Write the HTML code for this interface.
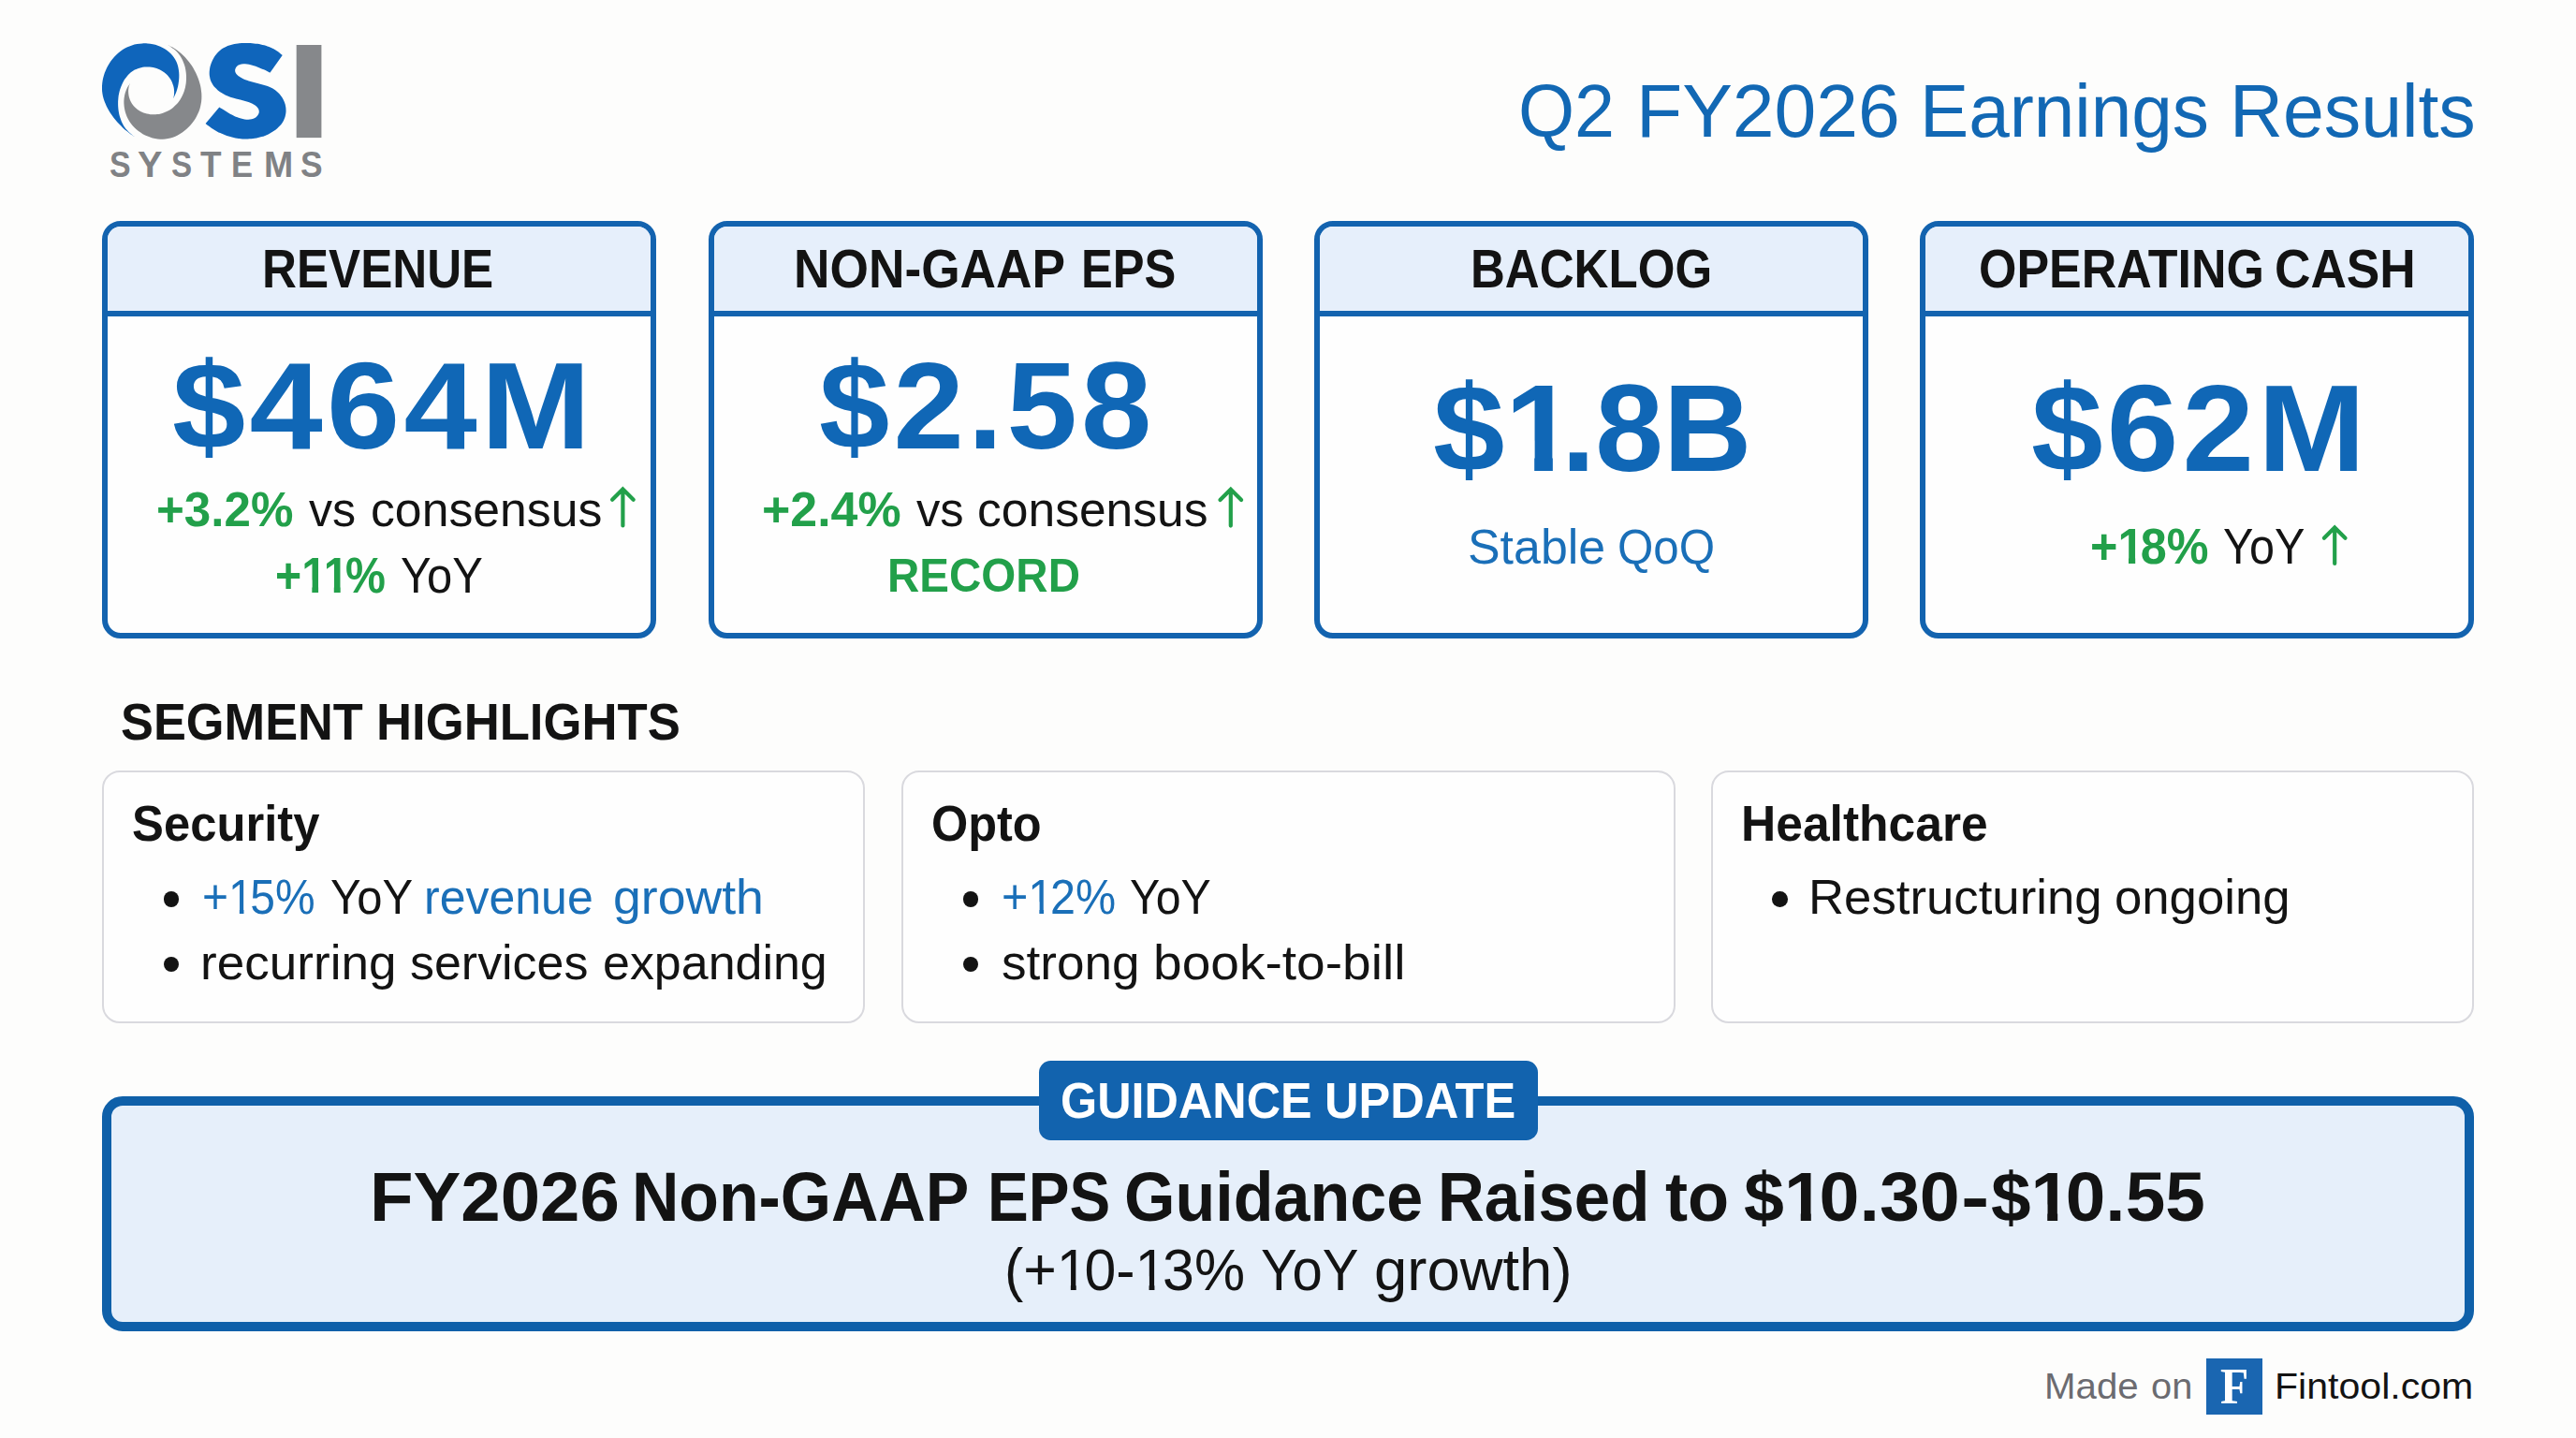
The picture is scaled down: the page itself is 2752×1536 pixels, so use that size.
<!DOCTYPE html>
<html><head><meta charset="utf-8"><title>OSI Systems Q2 FY2026 Earnings Results</title>
<style>
html,body{margin:0;padding:0;}
body{width:2752px;height:1536px;background:#fdfdfc;position:relative;overflow:hidden;font-family:"Liberation Sans",sans-serif;}
.t{position:absolute;white-space:pre;transform-origin:0 0;margin:0;padding:0;}
.o1b,.o1r{display:inline-block;margin-right:-0.07em;}
.o1b{clip-path:polygon(0 0,67.2% 0,67.2% 100%,41.5% 100%,41.5% 60%,0 60%);}
.o1r{clip-path:polygon(0 0,61.8% 0,61.8% 100%,44.5% 100%,44.5% 60%,0 60%);}
.serif{font-family:"Liberation Serif",serif;}
.kpi{position:absolute;top:235.5px;width:580px;height:434.2px;border:6px solid #1363af;border-radius:20px;background:#fefefe;overflow:hidden;}
.kpi .hd{position:absolute;left:0;top:0;width:100%;height:90.5px;background:#e6effb;border-bottom:6px solid #1363af;}
.seg{position:absolute;top:823px;height:266px;border:2px solid #d9d9de;border-radius:19px;background:#fefefe;}
.dot{position:absolute;width:16.6px;height:16.6px;border-radius:50%;background:#131313;}
.gbox{position:absolute;left:109px;top:1171px;width:2514px;height:231px;border:10px solid #0f60a9;border-radius:22px;background:#e6effa;}
.badge{position:absolute;left:1110.3px;top:1133px;width:532.5px;height:85px;border-radius:12.5px;background:#1263ae;}
.fbox{position:absolute;left:2357px;top:1451px;width:59.6px;height:59.6px;background:#1a66b1;}
svg{position:absolute;overflow:visible;}
</style></head><body>
<!-- logo -->
<svg id="logo" style="left:0;top:0" width="480" height="220" viewBox="0 0 480 220">
<path d="M144.3 146.6C143.6 146.1 141.3 144.7 139.8 143.6C138.3 142.5 136.9 141.3 135.5 140.1C134.0 138.9 132.6 137.7 131.2 136.4C129.8 135.1 128.5 133.7 127.1 132.3C125.8 130.9 124.5 129.4 123.3 127.9C122.0 126.5 120.8 124.9 119.7 123.3C118.6 121.8 117.5 120.2 116.5 118.5C115.6 116.9 114.6 115.2 113.8 113.5C113.0 111.8 112.3 110.0 111.6 108.3C111.0 106.5 110.5 104.7 110.0 102.9C109.6 101.1 109.3 99.3 109.1 97.5C109.0 95.6 108.9 93.8 109.0 91.9C109.1 90.0 109.3 88.2 109.6 86.3C109.9 84.4 110.3 82.6 110.9 80.8C111.4 78.9 112.0 77.1 112.8 75.4C113.5 73.6 114.4 71.9 115.3 70.2C116.3 68.5 117.3 66.9 118.4 65.3C119.6 63.7 120.8 62.2 122.1 60.8C123.4 59.4 124.7 58.0 126.2 56.8C127.6 55.5 129.1 54.4 130.7 53.3C132.3 52.3 133.9 51.3 135.6 50.5C137.3 49.7 139.1 48.9 140.9 48.4C142.7 47.8 144.5 47.3 146.4 47.0C148.2 46.7 150.1 46.4 152.0 46.4C153.9 46.3 155.8 46.3 157.7 46.5C159.6 46.6 161.4 46.9 163.3 47.3C165.1 47.6 166.9 48.1 168.6 48.7C170.4 49.4 172.1 50.1 173.7 50.9C175.3 51.8 176.9 52.7 178.3 53.8C179.8 54.8 181.2 56.0 182.4 57.3C183.7 58.5 184.8 59.9 185.9 61.4C186.9 62.9 187.8 64.5 188.5 66.1C189.3 67.8 189.9 69.6 190.3 71.5C190.7 73.3 191.0 75.3 191.2 77.3C191.4 79.3 191.4 81.3 191.3 83.3C191.2 85.4 191.0 87.4 190.6 89.4C190.3 91.4 189.9 93.4 189.3 95.2C188.8 97.1 188.1 98.9 187.4 100.6C186.7 102.3 185.5 104.6 185.1 105.4C185.3 104.8 185.7 103.0 185.9 101.7C186.0 100.4 186.1 99.0 186.1 97.6C186.1 96.3 185.9 95.0 185.7 93.7C185.4 92.4 185.1 91.1 184.6 89.9C184.2 88.7 183.7 87.5 183.1 86.3C182.5 85.2 181.8 84.1 181.0 83.1C180.3 82.0 179.5 81.0 178.6 80.1C177.7 79.2 176.7 78.4 175.7 77.6C174.7 76.8 173.7 76.1 172.6 75.5C171.5 74.8 170.3 74.3 169.1 73.8C168.0 73.3 166.8 72.9 165.5 72.6C164.3 72.2 163.1 72.0 161.8 71.8C160.6 71.6 159.3 71.5 158.1 71.5C156.8 71.4 155.5 71.5 154.3 71.6C153.1 71.7 151.8 71.9 150.7 72.2C149.5 72.4 148.3 72.8 147.2 73.2C146.0 73.6 145.0 74.1 143.9 74.6C142.9 75.2 141.9 75.8 140.9 76.5C140.0 77.2 139.0 78.0 138.2 78.8C137.3 79.6 136.5 80.5 135.7 81.4C134.9 82.3 134.2 83.3 133.5 84.3C132.8 85.3 132.2 86.4 131.6 87.5C131.0 88.6 130.5 89.7 130.0 90.9C129.5 92.1 129.0 93.3 128.6 94.5C128.2 95.7 127.8 97.0 127.5 98.3C127.2 99.5 127.0 100.8 126.7 102.1C126.5 103.4 126.4 104.8 126.3 106.1C126.1 107.4 126.1 108.8 126.1 110.1C126.1 111.4 126.1 112.8 126.2 114.1C126.3 115.4 126.4 116.8 126.6 118.1C126.8 119.4 127.0 120.7 127.3 122.0C127.6 123.3 128.0 124.5 128.4 125.8C128.8 127.0 129.2 128.2 129.7 129.4C130.2 130.6 130.8 131.8 131.4 132.9C132.0 134.0 132.7 135.1 133.4 136.2C134.1 137.2 134.9 138.2 135.8 139.1C136.6 140.1 137.5 141.0 138.4 141.8C139.4 142.7 140.4 143.4 141.4 144.2C142.4 145.0 143.8 146.2 144.3 146.6Z" fill="#0f65bb"/>
<path d="M179.5 48.0C180.3 48.5 182.8 49.7 184.4 50.6C186.0 51.5 187.5 52.5 189.0 53.5C190.5 54.6 192.0 55.8 193.4 57.0C194.9 58.3 196.2 59.6 197.6 61.0C198.9 62.4 200.1 63.9 201.4 65.4C202.6 66.9 203.7 68.5 204.8 70.1C205.9 71.8 206.9 73.5 207.8 75.2C208.8 76.9 209.6 78.7 210.4 80.5C211.2 82.3 211.9 84.1 212.5 86.0C213.1 87.8 213.6 89.7 214.1 91.6C214.5 93.4 214.8 95.3 215.0 97.2C215.3 99.1 215.4 101.0 215.4 102.9C215.4 104.8 215.3 106.7 215.1 108.6C214.8 110.5 214.5 112.3 214.0 114.2C213.6 116.0 213.0 117.8 212.3 119.6C211.6 121.3 210.7 123.1 209.8 124.7C208.9 126.4 207.9 128.1 206.8 129.6C205.7 131.2 204.5 132.7 203.2 134.1C201.9 135.5 200.6 136.9 199.1 138.1C197.7 139.4 196.2 140.5 194.7 141.6C193.1 142.7 191.5 143.6 189.8 144.5C188.2 145.3 186.5 146.1 184.7 146.7C183.0 147.3 181.2 147.7 179.4 148.1C177.6 148.4 175.8 148.6 174.0 148.7C172.1 148.7 170.3 148.6 168.4 148.4C166.6 148.2 164.8 147.9 163.0 147.4C161.2 146.9 159.4 146.3 157.7 145.6C155.9 144.9 154.2 144.1 152.6 143.2C151.0 142.2 149.4 141.2 147.9 140.1C146.4 138.9 145.0 137.7 143.6 136.3C142.3 135.0 141.1 133.5 139.9 132.0C138.8 130.5 137.8 128.9 136.9 127.2C136.0 125.5 135.2 123.7 134.6 121.9C134.0 120.1 133.4 118.3 133.1 116.4C132.7 114.5 132.5 112.6 132.4 110.6C132.3 108.7 132.4 106.8 132.6 104.9C132.9 102.9 133.3 101.0 133.8 99.1C134.4 97.2 135.2 95.3 136.0 93.6C136.9 91.9 138.6 89.7 139.1 88.9C138.8 89.5 137.9 91.3 137.6 92.7C137.3 94.0 137.2 95.7 137.1 97.1C137.1 98.5 137.2 99.9 137.4 101.2C137.6 102.6 137.9 103.9 138.3 105.1C138.6 106.3 139.1 107.5 139.7 108.6C140.3 109.7 141.0 110.8 141.7 111.8C142.4 112.8 143.3 113.7 144.1 114.6C145.0 115.4 146.0 116.2 146.9 117.0C147.9 117.7 149.0 118.3 150.1 118.9C151.1 119.5 152.3 120.0 153.4 120.5C154.6 120.9 155.7 121.3 156.9 121.6C158.1 121.8 159.4 122.1 160.6 122.2C161.8 122.3 163.0 122.4 164.3 122.3C165.5 122.3 166.8 122.2 168.0 122.1C169.2 121.9 170.5 121.7 171.7 121.4C172.9 121.1 174.1 120.7 175.3 120.2C176.5 119.8 177.6 119.3 178.8 118.8C179.9 118.2 181.0 117.6 182.1 116.9C183.1 116.2 184.2 115.5 185.1 114.7C186.1 113.9 187.1 113.0 187.9 112.1C188.8 111.2 189.7 110.3 190.5 109.3C191.2 108.3 192.0 107.2 192.6 106.2C193.3 105.1 193.9 104.0 194.5 102.8C195.1 101.6 195.6 100.5 196.1 99.2C196.5 98.0 197.0 96.8 197.3 95.5C197.7 94.3 198.0 93.0 198.2 91.7C198.5 90.4 198.7 89.1 198.8 87.8C198.9 86.5 199.0 85.1 199.0 83.8C199.1 82.5 199.0 81.2 198.9 79.8C198.9 78.5 198.7 77.2 198.5 75.9C198.3 74.6 198.1 73.3 197.8 72.0C197.4 70.8 197.1 69.5 196.6 68.3C196.2 67.1 195.7 65.9 195.2 64.7C194.7 63.5 194.1 62.4 193.4 61.3C192.7 60.2 192.0 59.1 191.2 58.1C190.5 57.0 189.6 56.1 188.7 55.1C187.8 54.2 186.9 53.3 185.9 52.5C184.8 51.7 183.7 51.0 182.6 50.2C181.6 49.5 180.0 48.4 179.5 48.0Z" fill="#86888b"/>
<path d="M301.7 58.9C301.2 58.5 299.7 57.2 298.7 56.4C297.7 55.6 296.7 54.9 295.6 54.2C294.6 53.5 293.5 52.9 292.4 52.3C291.3 51.7 290.2 51.2 289.1 50.7C288.0 50.2 286.8 49.8 285.7 49.4C284.5 48.9 283.4 48.6 282.2 48.3C281.0 48.0 279.8 47.7 278.6 47.4C277.4 47.2 276.2 47.0 275.0 46.8C273.8 46.6 272.5 46.5 271.3 46.4C270.1 46.3 268.8 46.2 267.5 46.1C266.3 46.1 265.0 46.0 263.7 46.0C262.5 46.0 261.2 46.0 259.9 46.1C258.6 46.1 257.3 46.2 256.0 46.3C254.8 46.4 253.5 46.6 252.2 46.8C251.0 47.0 249.7 47.2 248.5 47.5C247.3 47.8 246.1 48.1 244.9 48.5C243.7 48.9 242.6 49.3 241.4 49.9C240.3 50.4 239.2 50.9 238.2 51.6C237.2 52.2 236.1 52.9 235.2 53.7C234.2 54.5 233.3 55.4 232.5 56.3C231.6 57.2 230.8 58.2 230.0 59.2C229.3 60.3 228.6 61.3 228.0 62.5C227.3 63.6 226.8 64.7 226.3 65.9C225.8 67.1 225.3 68.3 225.0 69.5C224.6 70.7 224.3 72.0 224.1 73.2C223.9 74.5 223.8 75.7 223.7 76.9C223.7 78.2 223.7 79.4 223.8 80.6C224.0 81.8 224.2 83.0 224.5 84.2C224.8 85.3 225.2 86.5 225.7 87.6C226.2 88.7 226.8 89.7 227.5 90.7C228.1 91.7 228.9 92.7 229.8 93.6C230.6 94.5 231.6 95.4 232.5 96.2C233.5 97.0 234.6 97.8 235.6 98.5C236.7 99.2 237.9 99.9 239.0 100.5C240.1 101.2 241.3 101.7 242.5 102.3C243.7 102.8 244.9 103.3 246.1 103.7C247.3 104.1 248.5 104.5 249.7 104.8C250.8 105.2 252.0 105.5 253.2 105.7C254.4 106.0 255.5 106.3 256.7 106.6C257.9 106.9 259.0 107.1 260.2 107.4C261.4 107.8 262.6 108.1 263.7 108.5C264.9 108.8 266.1 109.3 267.3 109.8C268.5 110.3 269.8 110.8 270.9 111.5C272.0 112.1 273.2 112.8 274.1 113.7C275.0 114.6 275.9 115.7 276.3 116.8C276.7 117.8 276.9 119.1 276.7 120.3C276.5 121.4 275.8 122.6 275.1 123.5C274.3 124.5 273.3 125.4 272.3 126.0C271.2 126.6 270.1 127.0 268.9 127.3C267.7 127.6 266.4 127.7 265.2 127.7C263.9 127.7 262.6 127.6 261.3 127.4C260.0 127.2 258.7 126.8 257.4 126.5C256.1 126.1 254.9 125.7 253.7 125.3C252.5 124.8 251.4 124.4 250.3 123.9C249.2 123.4 248.1 122.8 247.0 122.3C246.0 121.7 244.9 121.1 243.9 120.5C242.9 119.9 241.8 119.3 240.8 118.6C239.8 118.0 238.7 117.3 237.6 116.6C236.6 115.9 234.9 114.9 234.3 114.5L219.6 131.9C220.0 132.3 221.5 133.5 222.5 134.3C223.4 135.0 224.4 135.8 225.5 136.5C226.5 137.2 227.5 137.9 228.6 138.5C229.7 139.2 230.8 139.8 231.9 140.4C233.0 141.0 234.1 141.6 235.3 142.1C236.4 142.7 237.6 143.2 238.8 143.6C239.9 144.1 241.1 144.5 242.3 145.0C243.5 145.4 244.8 145.7 246.0 146.1C247.2 146.4 248.4 146.7 249.7 147.0C250.9 147.3 252.2 147.5 253.4 147.7C254.7 147.9 255.9 148.1 257.2 148.2C258.4 148.3 259.7 148.4 261.0 148.4C262.2 148.5 263.5 148.5 264.7 148.5C266.0 148.4 267.3 148.4 268.5 148.3C269.7 148.2 271.0 148.0 272.2 147.8C273.5 147.6 274.7 147.4 275.9 147.1C277.1 146.8 278.3 146.5 279.5 146.1C280.7 145.8 281.9 145.4 283.1 144.9C284.3 144.5 285.4 144.0 286.6 143.4C287.7 142.9 288.8 142.3 289.9 141.6C291.0 141.0 292.1 140.3 293.1 139.6C294.2 138.8 295.2 138.0 296.1 137.2C297.1 136.4 298.0 135.5 298.8 134.6C299.7 133.7 300.5 132.7 301.2 131.7C301.9 130.7 302.5 129.6 303.1 128.5C303.6 127.4 304.1 126.2 304.5 125.0C304.8 123.8 305.1 122.5 305.3 121.2C305.5 120.0 305.6 118.7 305.5 117.4C305.5 116.1 305.4 114.8 305.1 113.5C304.9 112.3 304.6 111.0 304.1 109.8C303.7 108.6 303.2 107.4 302.6 106.3C302.0 105.1 301.3 104.0 300.6 103.0C299.9 101.9 299.1 100.9 298.2 100.0C297.4 99.1 296.4 98.2 295.5 97.4C294.5 96.6 293.5 95.8 292.5 95.2C291.4 94.5 290.4 94.0 289.3 93.4C288.2 92.9 287.0 92.4 285.9 92.0C284.7 91.6 283.6 91.2 282.4 90.9C281.2 90.5 280.0 90.2 278.8 89.9C277.5 89.6 276.3 89.3 275.1 89.0C273.8 88.7 272.6 88.4 271.3 88.1C270.1 87.7 268.9 87.4 267.6 87.0C266.4 86.7 265.1 86.3 263.9 85.8C262.7 85.4 261.5 84.9 260.3 84.4C259.1 83.8 257.9 83.2 256.8 82.5C255.6 81.8 254.5 81.0 253.7 80.2C252.8 79.4 252.0 78.5 251.6 77.5C251.2 76.5 251.0 75.4 251.2 74.3C251.5 73.2 252.1 71.9 252.9 71.0C253.7 70.1 254.9 69.3 256.1 68.9C257.3 68.4 258.7 68.3 260.0 68.2C261.3 68.2 262.7 68.3 264.0 68.5C265.3 68.7 266.5 68.9 267.8 69.2C269.0 69.5 270.2 69.9 271.3 70.3C272.5 70.6 273.7 71.1 274.9 71.5C276.0 71.9 277.2 72.4 278.4 72.9C279.5 73.3 280.7 73.8 281.8 74.3C283.0 74.9 284.1 75.4 285.3 75.9C286.4 76.5 288.1 77.3 288.6 77.6Z" fill="#0f65bb"/>
<rect x="316.7" y="48" width="26.7" height="99.1" fill="#86888b"/>
</svg>
<!-- KPI cards -->
<div class="kpi" style="left:109px"><div class="hd"></div></div>
<div class="kpi" style="left:756.5px"><div class="hd"></div></div>
<div class="kpi" style="left:1403.7px"><div class="hd"></div></div>
<div class="kpi" style="left:2051.3px"><div class="hd"></div></div>
<!-- arrows -->
<svg style="left:0;top:0" width="2752" height="700" viewBox="0 0 2752 700" fill="none" stroke="#22a04a" stroke-width="4.2" stroke-linecap="round" stroke-linejoin="miter">
<path d="M665.4 561.4V524M654.1 533.8L665.4 522.5L676.7 533.8"/>
<path d="M1314.8 561.6V524.3M1303.5 534.1L1314.8 522.8L1326.1 534.1"/>
<path d="M2494.2 602V565M2482.9 574.8L2494.2 563.5L2505.5 574.8"/>
</svg>
<!-- segment cards -->
<div class="seg" style="left:109px;width:811px"></div>
<div class="seg" style="left:962.5px;width:823px"></div>
<div class="seg" style="left:1828px;width:811px"></div>
<div class="dot" style="left:174.8px;top:952.2px"></div>
<div class="dot" style="left:174.8px;top:1021.9px"></div>
<div class="dot" style="left:1028.5px;top:952.2px"></div>
<div class="dot" style="left:1028.5px;top:1021.9px"></div>
<div class="dot" style="left:1893.3px;top:952.2px"></div>
<!-- guidance -->
<div class="gbox"></div>
<div class="badge"></div>
<div class="fbox"></div>
<div class="t" id="t1" style="left:1622.47px;top:79.26px;font-size:80.0px;line-height:80.0px;font-weight:400;color:#1268b4;transform:scaleX(0.9658)">Q2</div>
<div class="t" id="t2" style="left:1747.59px;top:79.26px;font-size:80.0px;line-height:80.0px;font-weight:400;color:#1268b4;transform:scaleX(1.0057)">FY2026</div>
<div class="t" id="t3" style="left:2050.72px;top:79.26px;font-size:80.0px;line-height:80.0px;font-weight:400;color:#1268b4;transform:scaleX(0.9784)">Earnings</div>
<div class="t" id="t4" style="left:2381.60px;top:79.26px;font-size:80.0px;line-height:80.0px;font-weight:400;color:#1268b4;transform:scaleX(0.9850)">Results</div>
<div class="t" id="h1" style="left:279.89px;top:259.26px;font-size:57.5px;line-height:57.5px;font-weight:700;color:#131313;transform:scaleX(0.8893)">REVENUE</div>
<div class="t" id="h21" style="left:848.15px;top:259.26px;font-size:57.5px;line-height:57.5px;font-weight:700;color:#131313;transform:scaleX(0.9267)">NON-GAAP</div>
<div class="t" id="h22" style="left:1154.99px;top:259.26px;font-size:57.5px;line-height:57.5px;font-weight:700;color:#131313;transform:scaleX(0.8809)">EPS</div>
<div class="t" id="h3" style="left:1570.85px;top:259.26px;font-size:57.5px;line-height:57.5px;font-weight:700;color:#131313;transform:scaleX(0.8880)">BACKLOG</div>
<div class="t" id="h41" style="left:2113.56px;top:258.56px;font-size:57.5px;line-height:57.5px;font-weight:700;color:#131313;transform:scaleX(0.9032)">OPERATING</div>
<div class="t" id="h42" style="left:2430.32px;top:258.56px;font-size:57.5px;line-height:57.5px;font-weight:700;color:#131313;transform:scaleX(0.9253)">CASH</div>
<div class="t" id="n1" style="left:183.70px;top:366.81px;font-size:132.5px;line-height:132.5px;letter-spacing:4px;font-weight:700;color:#1067b6;transform:scaleX(1.0614)">$464M</div>
<div class="t" id="n2" style="left:875.29px;top:366.81px;font-size:132.5px;line-height:132.5px;letter-spacing:4px;font-weight:700;color:#1067b6;transform:scaleX(1.0222)">$2.58</div>
<div class="t" id="n3a" style="left:1530.79px;top:391.11px;font-size:132.5px;line-height:132.5px;font-weight:700;color:#1067b6;transform:scaleX(1.0375)">$<span class="o1b">1</span></div>
<div class="t" id="n3b" style="left:1667.78px;top:391.11px;font-size:132.5px;line-height:132.5px;font-weight:700;color:#1067b6;transform:scaleX(0.9868)">.8B</div>
<div class="t" id="n4" style="left:2169.94px;top:391.11px;font-size:132.5px;line-height:132.5px;letter-spacing:4px;font-weight:700;color:#1067b6;transform:scaleX(1.0390)">$62M</div>
<div class="t" id="s1a1" style="left:167.47px;top:518.05px;font-size:52.5px;line-height:52.5px;font-weight:700;color:#22a04a;transform:scaleX(0.9734)">+3.2%</div>
<div class="t" id="s1a2" style="left:329.98px;top:518.05px;font-size:52.5px;line-height:52.5px;font-weight:400;color:#131313;transform:scaleX(0.9564)">vs</div>
<div class="t" id="s1a3" style="left:395.76px;top:518.05px;font-size:52.5px;line-height:52.5px;font-weight:400;color:#131313;transform:scaleX(0.9852)">consensus</div>
<div class="t" id="s1b1" style="left:294.36px;top:587.82px;font-size:53.0px;line-height:53.0px;font-weight:700;color:#22a04a;transform:scaleX(0.9104)">+<span class="o1b">1</span><span class="o1b">1</span>%</div>
<div class="t" id="s1b2" style="left:427.87px;top:587.82px;font-size:53.0px;line-height:53.0px;font-weight:400;color:#131313;transform:scaleX(0.9224)">YoY</div>
<div class="t" id="s2a1" style="left:813.82px;top:518.05px;font-size:52.5px;line-height:52.5px;font-weight:700;color:#22a04a;transform:scaleX(0.9878)">+2.4%</div>
<div class="t" id="s2a2" style="left:979.42px;top:518.05px;font-size:52.5px;line-height:52.5px;font-weight:400;color:#131313;transform:scaleX(0.9650)">vs</div>
<div class="t" id="s2a3" style="left:1044.24px;top:518.05px;font-size:52.5px;line-height:52.5px;font-weight:400;color:#131313;transform:scaleX(0.9823)">consensus</div>
<div class="t" id="s2b" style="left:948.47px;top:590.06px;font-size:50.0px;line-height:50.0px;font-weight:700;color:#22a04a;transform:scaleX(0.9505)">RECORD</div>
<div class="t" id="s31" style="left:1567.75px;top:558.05px;font-size:52.5px;line-height:52.5px;font-weight:400;color:#1a6fb8;transform:scaleX(0.9885)">Stable</div>
<div class="t" id="s32" style="left:1727.91px;top:558.05px;font-size:52.5px;line-height:52.5px;font-weight:400;color:#1a6fb8;transform:scaleX(0.9386)">QoQ</div>
<div class="t" id="s41" style="left:2233.21px;top:557.20px;font-size:53.5px;line-height:53.5px;font-weight:700;color:#22a04a;transform:scaleX(0.9404)">+<span class="o1b">1</span>8%</div>
<div class="t" id="s42" style="left:2374.50px;top:557.20px;font-size:53.5px;line-height:53.5px;font-weight:400;color:#131313;transform:scaleX(0.9071)">YoY</div>
<div class="t" id="seg1" style="left:129.43px;top:744.11px;font-size:55.5px;line-height:55.5px;font-weight:700;color:#131313;transform:scaleX(0.9432)">SEGMENT</div>
<div class="t" id="seg2" style="left:402.45px;top:744.11px;font-size:55.5px;line-height:55.5px;font-weight:700;color:#131313;transform:scaleX(0.9491)">HIGHLIGHTS</div>
<div class="t" id="g1" style="left:141.18px;top:852.91px;font-size:53.5px;line-height:53.5px;font-weight:700;color:#131313;transform:scaleX(0.9494)">Security</div>
<div class="t" id="g2" style="left:995.23px;top:852.91px;font-size:53.5px;line-height:53.5px;font-weight:700;color:#131313;transform:scaleX(0.9426)">Opto</div>
<div class="t" id="g3" style="left:1859.51px;top:852.91px;font-size:53.5px;line-height:53.5px;font-weight:700;color:#131313;transform:scaleX(0.9636)">Healthcare</div>
<div class="t" id="b1a1" style="left:216.48px;top:932.16px;font-size:52.0px;line-height:52.0px;font-weight:400;color:#1a6fb8;transform:scaleX(0.9214)">+<span class="o1r">1</span>5%</div>
<div class="t" id="b1a2" style="left:352.85px;top:932.16px;font-size:52.0px;line-height:52.0px;font-weight:400;color:#131313;transform:scaleX(0.9416)">YoY</div>
<div class="t" id="b1r1" style="left:452.62px;top:932.16px;font-size:52.0px;line-height:52.0px;font-weight:400;color:#1a6fb8;transform:scaleX(0.9619)">revenue</div>
<div class="t" id="b1r2" style="left:654.59px;top:932.16px;font-size:52.0px;line-height:52.0px;font-weight:400;color:#1a6fb8;transform:scaleX(1.0309)">growth</div>
<div class="t" id="b1b1" style="left:213.73px;top:1002.16px;font-size:52.0px;line-height:52.0px;font-weight:400;color:#131313;transform:scaleX(1.0209)">recurring</div>
<div class="t" id="b1b2" style="left:438.00px;top:1002.16px;font-size:52.0px;line-height:52.0px;font-weight:400;color:#131313;transform:scaleX(0.9985)">services</div>
<div class="t" id="b1b3" style="left:644.17px;top:1002.16px;font-size:52.0px;line-height:52.0px;font-weight:400;color:#131313;transform:scaleX(0.9990)">expanding</div>
<div class="t" id="b2a1" style="left:1070.09px;top:932.16px;font-size:52.0px;line-height:52.0px;font-weight:400;color:#1a6fb8;transform:scaleX(0.9331)">+<span class="o1r">1</span>2%</div>
<div class="t" id="b2a2" style="left:1207.12px;top:932.16px;font-size:52.0px;line-height:52.0px;font-weight:400;color:#131313;transform:scaleX(0.9281)">YoY</div>
<div class="t" id="b2b1" style="left:1070.28px;top:1002.16px;font-size:52.0px;line-height:52.0px;font-weight:400;color:#131313;transform:scaleX(1.0204)">strong</div>
<div class="t" id="b2b2" style="left:1232.00px;top:1002.16px;font-size:52.0px;line-height:52.0px;font-weight:400;color:#131313;transform:scaleX(1.0595)">book-to-bill</div>
<div class="t" id="b3a1" style="left:1931.84px;top:932.16px;font-size:52.0px;line-height:52.0px;font-weight:400;color:#131313;transform:scaleX(1.0141)">Restructuring</div>
<div class="t" id="b3a2" style="left:2258.75px;top:932.16px;font-size:52.0px;line-height:52.0px;font-weight:400;color:#131313;transform:scaleX(1.0133)">ongoing</div>
<div class="t" id="gb1" style="left:1132.67px;top:1147.58px;font-size:54.0px;line-height:54.0px;font-weight:700;color:#ffffff;transform:scaleX(0.9327)">GUIDANCE</div>
<div class="t" id="gb2" style="left:1414.73px;top:1147.58px;font-size:54.0px;line-height:54.0px;font-weight:700;color:#ffffff;transform:scaleX(0.9368)">UPDATE</div>
<div class="t" id="gm1" style="left:394.54px;top:1242.19px;font-size:74.5px;line-height:74.5px;font-weight:700;color:#131313;transform:scaleX(1.0224)">FY2026</div>
<div class="t" id="gm2" style="left:675.18px;top:1242.19px;font-size:74.5px;line-height:74.5px;font-weight:700;color:#131313;transform:scaleX(0.9363)">Non-GAAP</div>
<div class="t" id="gm3" style="left:1054.50px;top:1242.19px;font-size:74.5px;line-height:74.5px;font-weight:700;color:#131313;transform:scaleX(0.8799)">EPS</div>
<div class="t" id="gm4" style="left:1201.36px;top:1242.19px;font-size:74.5px;line-height:74.5px;font-weight:700;color:#131313;transform:scaleX(0.9403)">Guidance</div>
<div class="t" id="gm5" style="left:1536.11px;top:1242.19px;font-size:74.5px;line-height:74.5px;font-weight:700;color:#131313;transform:scaleX(0.9262)">Raised</div>
<div class="t" id="gm6" style="left:1778.53px;top:1242.19px;font-size:74.5px;line-height:74.5px;font-weight:700;color:#131313;transform:scaleX(0.9702)">to</div>
<div class="t" id="gm7" style="left:1863.02px;top:1242.19px;font-size:74.5px;line-height:74.5px;font-weight:700;color:#131313;transform:scaleX(1.0365)">$<span class="o1b">1</span>0.30</div>
<div class="t" id="gm8" style="left:2094.89px;top:1241.72px;font-size:74.5px;line-height:74.5px;font-weight:700;color:#131313;transform:scaleX(1.2224)">-</div>
<div class="t" id="gm9" style="left:2127.25px;top:1241.72px;font-size:74.5px;line-height:74.5px;font-weight:700;color:#131313;transform:scaleX(1.0274)">$<span class="o1b">1</span>0.55</div>
<div class="t" id="gs1" style="left:1073.46px;top:1325.16px;font-size:63.5px;line-height:63.5px;font-weight:400;color:#131313;transform:scaleX(0.9581)">(+<span class="o1r">1</span>0-<span class="o1r">1</span>3%</div>
<div class="t" id="gs2" style="left:1346.56px;top:1325.16px;font-size:63.5px;line-height:63.5px;font-weight:400;color:#131313;transform:scaleX(0.9138)">YoY</div>
<div class="t" id="gs3" style="left:1467.59px;top:1325.16px;font-size:63.5px;line-height:63.5px;font-weight:400;color:#131313;transform:scaleX(0.9989)">growth)</div>
<div class="t" id="f11" style="left:2184.01px;top:1460.98px;font-size:39.0px;line-height:39.0px;font-weight:400;color:#6b6b70;transform:scaleX(1.0324)">Made</div>
<div class="t" id="f12" style="left:2298.11px;top:1460.98px;font-size:39.0px;line-height:39.0px;font-weight:400;color:#6b6b70;transform:scaleX(1.0205)">on</div>
<div class="t" id="f2" style="left:2430.17px;top:1460.98px;font-size:39.0px;line-height:39.0px;font-weight:400;color:#131313;transform:scaleX(1.0529)">Fintool.com</div>
<div class="t" id="y1" style="left:116.97px;top:157.20px;font-size:38.5px;line-height:38.5px;font-weight:700;color:#808285;transform:scaleX(0.8806)">S</div>
<div class="t" id="y2" style="left:147.25px;top:157.20px;font-size:38.5px;line-height:38.5px;font-weight:700;color:#808285;transform:scaleX(1.0284)">Y</div>
<div class="t" id="y3" style="left:183.01px;top:157.20px;font-size:38.5px;line-height:38.5px;font-weight:700;color:#808285;transform:scaleX(0.8625)">S</div>
<div class="t" id="y4" style="left:214.07px;top:157.20px;font-size:38.5px;line-height:38.5px;font-weight:700;color:#808285;transform:scaleX(0.9584)">T</div>
<div class="t" id="y5" style="left:247.44px;top:157.20px;font-size:38.5px;line-height:38.5px;font-weight:700;color:#808285;transform:scaleX(0.9003)">E</div>
<div class="t" id="y6" style="left:281.96px;top:157.20px;font-size:38.5px;line-height:38.5px;font-weight:700;color:#808285;transform:scaleX(0.9723)">M</div>
<div class="t" id="y7" style="left:321.48px;top:157.20px;font-size:38.5px;line-height:38.5px;font-weight:700;color:#808285;transform:scaleX(0.9181)">S</div>
<div class="t serif" id="ff" style="left:2372.35px;top:1453.88px;font-size:54.0px;line-height:54.0px;font-weight:700;color:#ffffff;transform:scaleX(0.9165)">F</div>
</body></html>
